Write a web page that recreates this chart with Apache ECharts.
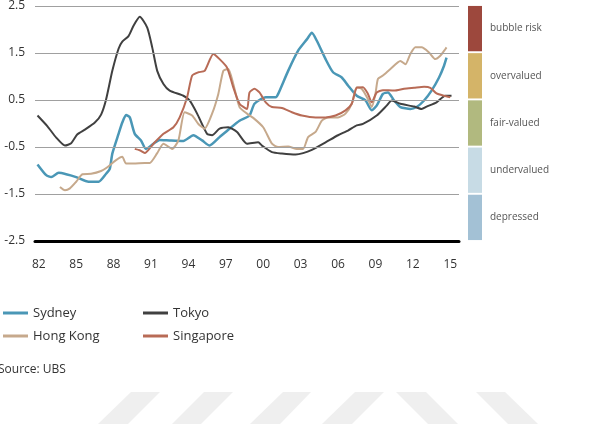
<!DOCTYPE html>
<html>
<head>
<meta charset="utf-8">
<script src="https://cdn.jsdelivr.net/npm/echarts@6/dist/echarts.min.js"></script>
<style>
    html, body { margin: 0; padding: 0; background: #fff; }
    #chart { width: 593px; height: 424px; }
</style>
</head>
<body>
<div id="chart"></div>
<script>
// bubble index, [year, value]
const sydney = [
    [1981.9, -0.87], [1982.6, -1.10], [1983.0, -1.14], [1983.6, -1.05], [1984.2, -1.08],
    [1985.0, -1.14], [1986.0, -1.24], [1986.8, -1.24], [1987.4, -1.07], [1987.7, -0.96],
    [1987.9, -0.64], [1988.4, -0.22], [1988.7, 0.02], [1989.0, 0.18], [1989.3, 0.13],
    [1989.7, -0.22], [1990.2, -0.36], [1990.6, -0.54], [1991.2, -0.43], [1991.7, -0.35],
    [1992.5, -0.36], [1993.6, -0.37], [1994.4, -0.25], [1995.1, -0.36], [1995.7, -0.47],
    [1996.5, -0.29], [1997.3, -0.11], [1998.1, 0.06], [1998.9, 0.17], [1999.3, 0.42],
    [2000.2, 0.56], [2001.0, 0.56], [2001.2, 0.63], [2002.0, 1.12], [2002.8, 1.55],
    [2003.5, 1.79], [2003.9, 1.93], [2004.3, 1.76], [2005.0, 1.37], [2005.6, 1.09],
    [2006.3, 0.98], [2006.8, 0.81], [2007.5, 0.59], [2008.2, 0.49], [2008.7, 0.28],
    [2009.1, 0.38], [2009.6, 0.63], [2010.0, 0.66], [2010.5, 0.49], [2011.0, 0.35],
    [2011.8, 0.31], [2012.3, 0.35], [2012.9, 0.49], [2013.5, 0.70], [2014.1, 0.98],
    [2014.5, 1.23], [2014.7, 1.40]
];
const tokyo = [
    [1981.9, 0.17], [1982.7, -0.06], [1983.4, -0.30], [1984.1, -0.47], [1984.6, -0.42],
    [1985.1, -0.23], [1985.7, -0.13], [1986.5, 0.02], [1987.0, 0.19], [1987.4, 0.51],
    [1987.9, 1.12], [1988.4, 1.59], [1988.7, 1.74], [1989.2, 1.86], [1989.6, 2.08],
    [1990.1, 2.27], [1990.7, 2.04], [1991.1, 1.62], [1991.5, 1.12], [1992.0, 0.84],
    [1992.5, 0.70], [1993.6, 0.59], [1994.1, 0.49], [1994.7, 0.21], [1995.5, -0.22],
    [1995.9, -0.25], [1996.5, -0.11], [1997.2, -0.08], [1997.9, -0.18], [1998.7, -0.43],
    [1999.6, -0.40], [1999.9, -0.47], [2000.7, -0.61], [2001.5, -0.64], [2002.6, -0.66],
    [2003.2, -0.63], [2003.9, -0.56], [2005.0, -0.40], [2006.0, -0.25], [2006.8, -0.15],
    [2007.5, -0.04], [2008.0, -0.01], [2009.1, 0.17], [2009.9, 0.38], [2010.3, 0.49],
    [2011.0, 0.42], [2012.1, 0.36], [2012.7, 0.31], [2013.1, 0.36], [2013.9, 0.45],
    [2014.6, 0.59], [2015.1, 0.59]
];
const hongKong = [
    [1983.7, -1.35], [1984.1, -1.42], [1984.5, -1.38], [1985.0, -1.24], [1985.5, -1.08],
    [1986.2, -1.07], [1987.0, -1.01], [1987.5, -0.93], [1988.2, -0.78], [1988.7, -0.71],
    [1989.0, -0.85], [1989.6, -0.85], [1990.5, -0.84], [1990.9, -0.84], [1991.5, -0.63],
    [1992.0, -0.43], [1992.7, -0.54], [1993.2, -0.36], [1993.7, 0.24], [1994.3, 0.17],
    [1994.8, -0.01], [1995.3, -0.11], [1995.9, 0.21], [1996.4, 0.63], [1996.8, 1.12],
    [1997.2, 1.16], [1997.6, 0.84], [1998.1, 0.35], [1998.7, 0.21], [1999.2, 0.12],
    [2000.0, -0.08], [2000.7, -0.43], [2001.2, -0.50], [2002.0, -0.49], [2002.7, -0.54],
    [2003.2, -0.54], [2003.6, -0.29], [2004.2, -0.18], [2004.7, 0.06], [2005.2, 0.13],
    [2006.0, 0.13], [2006.6, 0.21], [2007.1, 0.42], [2007.5, 0.77], [2007.9, 0.74],
    [2008.4, 0.52], [2008.7, 0.35], [2009.0, 0.63], [2009.2, 0.95], [2009.6, 1.02],
    [2010.2, 1.16], [2011.0, 1.33], [2011.4, 1.26], [2011.8, 1.48], [2012.2, 1.62],
    [2012.7, 1.62], [2013.3, 1.51], [2013.8, 1.37], [2014.2, 1.44], [2014.6, 1.58],
    [2014.7, 1.62]
];
const singapore = [
    [1989.7, -0.54], [1990.1, -0.57], [1990.5, -0.63], [1991.2, -0.43], [1992.0, -0.22],
    [1992.8, -0.08], [1993.3, 0.13], [1993.9, 0.56], [1994.3, 1.02], [1994.8, 1.09],
    [1995.3, 1.12], [1996.0, 1.48], [1996.5, 1.37], [1997.1, 1.19], [1997.6, 0.77],
    [1998.1, 0.42], [1998.7, 0.31], [1998.9, 0.66], [1999.3, 0.74], [1999.7, 0.66],
    [2000.2, 0.45], [2000.7, 0.35], [2001.5, 0.33], [2002.3, 0.24], [2003.1, 0.17],
    [2004.2, 0.13], [2005.0, 0.13], [2005.8, 0.17], [2006.6, 0.28], [2007.1, 0.42],
    [2007.5, 0.76], [2008.0, 0.77], [2008.4, 0.63], [2008.7, 0.45], [2009.1, 0.66],
    [2009.6, 0.71], [2010.5, 0.70], [2011.3, 0.74], [2012.1, 0.76], [2012.9, 0.78],
    [2013.4, 0.76], [2013.9, 0.64], [2014.5, 0.59], [2015.0, 0.56]
];

const yearLabels = [1982, 1985, 1988, 1991, 1994, 1997, 2000, 2003, 2006, 2009, 2012, 2015];
const yLabels = [2.5, 1.5, 0.5, -0.5, -1.5, -2.5];
const gridLevels = [2.5, 1.5, 0.5, -0.5, -1.5];
const bandNames = ['depressed', 'undervalued', 'fair-valued', 'overvalued', 'bubble risk'];
const bandValues = [1, 1, 1, 1, 1];
const bandColors = ['#a3c1d5', '#c7dbe5', '#b1b97f', '#d4b468', '#9d483d'];

const font = '"Open Sans", "Noto Sans", sans-serif';

function lineSeries(name, data, color, width) {
    return {
        name: name,
        type: 'line',
        xAxisIndex: 0,
        yAxisIndex: 0,
        data: data,
        showSymbol: false,
        smooth: 0.2,
        z: 3,
        lineStyle: { color: color, width: width },
        itemStyle: { color: color }
    };
}

// faint page watermark stripes at the bottom
function stripe(pts) {
    return {
        type: 'polygon', silent: true, z: -10,
        shape: { points: pts },
        style: { fill: '#efefef' }
    };
}

const chart = echarts.init(document.getElementById('chart'));

const option = {
    animation: false,
    backgroundColor: '#fff',
    textStyle: { fontFamily: font },
    grid: [
        { left: 35, right: 134, top: 5, bottom: 183 },
        { left: 468, width: 14, top: 5, bottom: 183 }
    ],
    legend: [
        {
            orient: 'vertical', left: -2, top: 300,
            data: ['Sydney', 'Hong Kong'],
            icon: 'rect', itemWidth: 25, itemHeight: 3, itemGap: 7,
            textStyle: { fontSize: 13, color: '#333', lineHeight: 16, fontFamily: font }
        },
        {
            orient: 'vertical', left: 138, top: 300,
            data: ['Tokyo', 'Singapore'],
            icon: 'rect', itemWidth: 25, itemHeight: 3, itemGap: 7,
            textStyle: { fontSize: 13, color: '#333', lineHeight: 16, fontFamily: font }
        }
    ],
    graphic: [
        {
            type: 'text', left: -2, top: 364,
            style: { text: 'Source: UBS', fontSize: 12, fill: '#333', fontFamily: font }
        },
        stripe([[131, 392], [160, 392], [128, 424], [98, 424]]),
        stripe([[204, 392], [233, 392], [201, 424], [172, 424]]),
        stripe([[283, 392], [311, 392], [280, 424], [250, 424]]),
        stripe([[355, 392], [384, 392], [352, 424], [322, 424]]),
        stripe([[396, 392], [426, 392], [458, 424], [428, 424]]),
        stripe([[476, 392], [505, 392], [538, 424], [508, 424]])
    ],
    xAxis: [
        {
            type: 'value', gridIndex: 0,
            min: 1981.7, max: 2015.7, interval: 0.1,
            axisLine: { onZero: false, lineStyle: { color: '#000', width: 3 } },
            axisTick: { show: false },
            splitLine: { show: false },
            axisLabel: {
                margin: 18, fontSize: 12, color: '#333',
                showMinLabel: false, showMaxLabel: false,
                formatter: function (v) {
                    const r = Math.round(v);
                    if (Math.abs(v - r) > 1e-4 || yearLabels.indexOf(r) < 0) return '';
                    return String(r).slice(2);
                }
            }
        },
        {
            type: 'value', gridIndex: 1, min: 0, max: 1, show: false
        }
    ],
    yAxis: [
        {
            type: 'value', gridIndex: 0,
            min: -2.5, max: 2.5, interval: 0.5,
            axisLine: { show: false },
            axisTick: { show: false },
            splitLine: { show: false },
            axisLabel: {
                margin: 10, fontSize: 12, color: '#333',
                formatter: function (v) {
                    const hit = yLabels.some(t => Math.abs(t - v) < 1e-6);
                    return hit ? v.toFixed(1) : '';
                }
            }
        },
        {
            type: 'category', gridIndex: 1, position: 'right',
            data: bandNames,
            axisLine: { show: false },
            axisTick: { show: false },
            axisLabel: { margin: 8, fontSize: 10, color: '#555' }
        }
    ],
    series: [
        {
            name: 'grid',
            type: 'line',
            xAxisIndex: 0,
            yAxisIndex: 0,
            data: [],
            z: 1,
            silent: true,
            markLine: {
                silent: true,
                symbol: ['none', 'none'],
                label: { show: false },
                lineStyle: { color: '#a0a0a0', width: 1, type: 'solid' },
                data: gridLevels.map(v => ({ yAxis: v }))
            }
        },
        lineSeries('Sydney', sydney, '#4a97b6', 2.5),
        lineSeries('Tokyo', tokyo, '#404040', 2),
        lineSeries('Hong Kong', hongKong, '#c6a98c', 2),
        lineSeries('Singapore', singapore, '#b86b56', 2),
        {
            name: 'bands',
            type: 'bar',
            xAxisIndex: 1,
            yAxisIndex: 1,
            barCategoryGap: '4%',
            silent: true,
            data: bandValues.map((v, i) => ({ value: v, itemStyle: { color: bandColors[i] } }))
        }
    ]
};

chart.setOption(option);
</script>
</body>
</html>
